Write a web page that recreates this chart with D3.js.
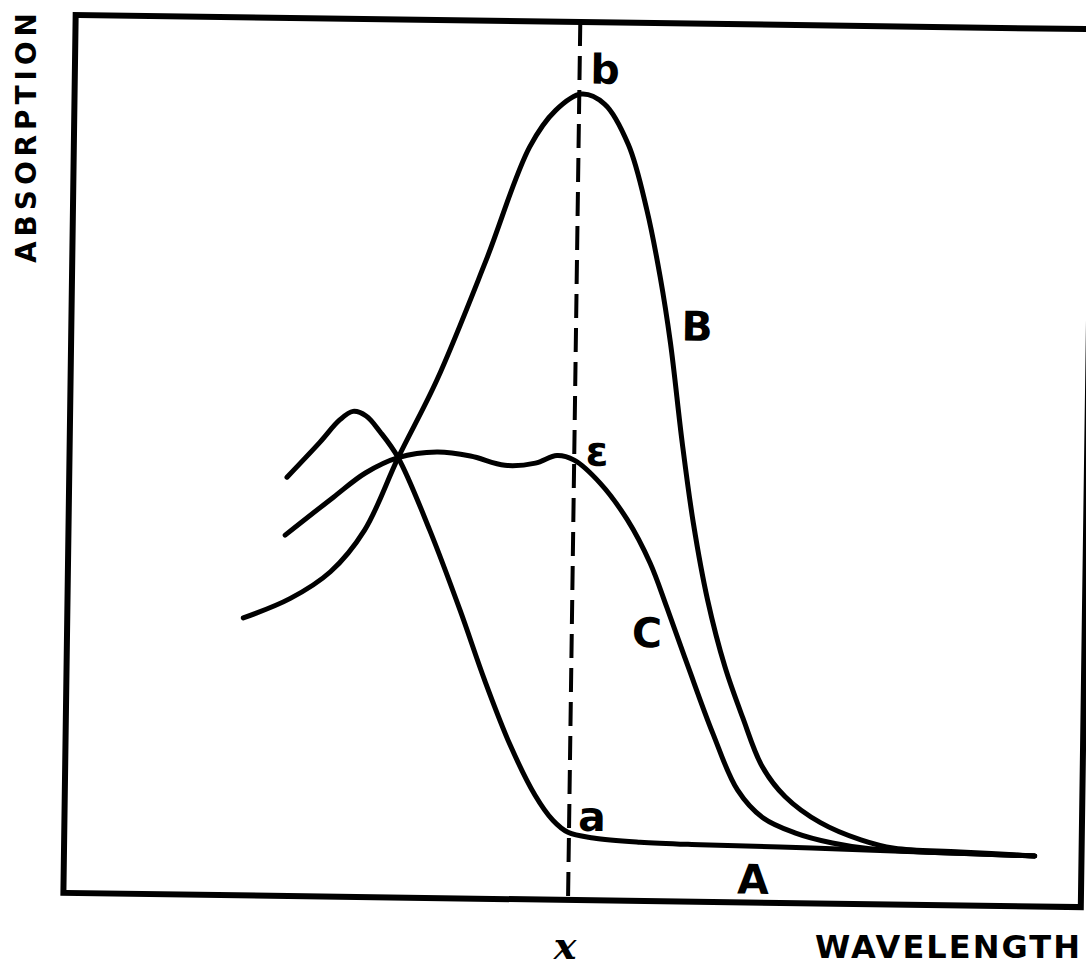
<!DOCTYPE html>
<html>
<head>
<meta charset="utf-8">
<script src="https://cdn.jsdelivr.net/npm/d3@7"></script>
<style>
  html, body { margin: 0; padding: 0; background: #fff; }
  svg { display: block; }
  text { font-family: "DejaVu Sans", "Liberation Sans", sans-serif; fill: #000; }
</style>
</head>
<body>
<svg id="chart"></svg>
<script>
// Curve values (wavelength, absorption), both in arbitrary 0-100 units
const curveA = [
    [21.4, 47.7], [24.6, 51.75], [26.5, 54.3], [27.8, 55.3], [29.1, 54.8], [30.5, 53.0],
    [32.3, 50.1], [35.5, 41.9], [38.6, 32.8], [41.1, 24.9], [43.7, 17.55], [46.2, 11.9],
    [48.0, 9.05], [49.5, 7.7], [52.0, 7.1], [56.6, 6.7], [62.5, 6.5], [73.5, 6.3],
    [85.6, 6.0], [95.4, 5.75]
];
const curveB = [
    [17.3, 31.6], [21.9, 33.9], [25.8, 37.0], [29.1, 41.8], [32.3, 50.1], [36.0, 59.0],
    [40.6, 72.5], [44.8, 85.7], [47.3, 89.9], [49.8, 91.8], [52.1, 90.7], [54.5, 86.1],
    [56.4, 78.7], [57.8, 71.1], [58.9, 63.6], [60.2, 52.2], [61.4, 43.1], [62.9, 34.4],
    [64.7, 26.8], [66.5, 21.1], [68.5, 15.5], [70.8, 12.1], [74.3, 9.2], [78.3, 7.3],
    [81.6, 6.4], [88.1, 6.1], [95.4, 5.75]
];
const curveC = [
    [21.3, 41.1], [26.0, 45.5], [29.1, 48.3], [32.3, 50.1], [36.1, 50.8], [39.4, 50.4],
    [42.8, 49.4], [45.8, 49.7], [47.9, 50.6], [49.6, 50.1], [52.2, 47.5], [54.9, 43.4],
    [57.2, 38.5], [58.9, 33.5], [61.1, 26.7], [63.6, 19.2], [66.1, 12.8], [68.6, 9.7],
    [71.8, 8.0], [75.5, 6.9], [79.2, 6.3], [85.6, 6.0], [95.4, 5.75]
];
const markerX = 49.6;   // wavelength x, dashed line

const curveLabels = [
    { text: "A", x: 67.75, y: 2.6 },
    { text: "B", x: 61.5, y: 65.5 },
    { text: "C", x: 57.0, y: 30.5 }
];
const pointLabels = [
    { text: "a", x: 51.85, y: 9.5 },
    { text: "b", x: 52.1, y: 94.6 },
    { text: "ε", x: 51.85, y: 51.1 }
];

const width = 1086, height = 971;
const plot = { left: 69.5, right: 1087, top: 22, bottom: 900 };

const svg = d3.select("#chart")
    .attr("width", width)
    .attr("height", height);

const x = d3.scaleLinear().domain([0, 100]).range([plot.left, plot.right]);
const y = d3.scaleLinear().domain([0, 100]).range([plot.bottom, plot.top]);

// the scanned figure sits slightly askew
const g = svg.append("g")
    .attr("transform", "rotate(0.8, 574, 460)");

// Frame
g.append("rect")
    .attr("x", x(0))
    .attr("y", y(100))
    .attr("width", x(100) - x(0))
    .attr("height", y(0) - y(100))
    .attr("fill", "none")
    .attr("stroke", "#000")
    .attr("stroke-width", 6);

// Dashed marker line
g.append("line")
    .attr("x1", x(markerX))
    .attr("x2", x(markerX))
    .attr("y1", y(100))
    .attr("y2", y(0))
    .attr("stroke", "#000")
    .attr("stroke-width", 4)
    .attr("stroke-dasharray", "24,10");

// Curves
const line = d3.line()
    .x(d => x(d[0]))
    .y(d => y(d[1]))
    .curve(d3.curveCatmullRom.alpha(0.5));

[curveA, curveB, curveC].forEach(data => {
    g.append("path")
        .datum(data)
        .attr("fill", "none")
        .attr("stroke", "#000")
        .attr("stroke-width", 5)
        .attr("stroke-linecap", "round")
        .attr("stroke-linejoin", "round")
        .attr("d", line);
});

// Labels
g.selectAll(".curve-label")
    .data(curveLabels.concat(pointLabels))
    .enter()
    .append("text")
    .attr("class", "curve-label")
    .attr("x", d => x(d.x))
    .attr("y", d => y(d.y))
    .attr("text-anchor", "middle")
    .attr("dominant-baseline", "central")
    .attr("font-size", 41)
    .attr("font-weight", "bold")
    .text(d => d.text);

// Axis titles
svg.append("text")
    .attr("x", 565)
    .attr("y", 945)
    .attr("text-anchor", "middle")
    .attr("dominant-baseline", "central")
    .style("font-family", "'DejaVu Serif', serif")
    .style("font-style", "italic")
    .attr("font-weight", "bold")
    .attr("font-size", 38)
    .text("x");

svg.append("text")
    .attr("x", 815)
    .attr("y", 958)
    .attr("font-size", 32)
    .attr("font-weight", "bold")
    .attr("textLength", 265)
    .attr("lengthAdjust", "spacing")
    .text("WAVELENGTH");

svg.append("text")
    .attr("transform", "translate(36, 263) rotate(-90)")
    .attr("font-size", 28)
    .attr("font-weight", "bold")
    .attr("textLength", 250)
    .attr("lengthAdjust", "spacing")
    .text("ABSORPTION");
</script>
</body>
</html>
